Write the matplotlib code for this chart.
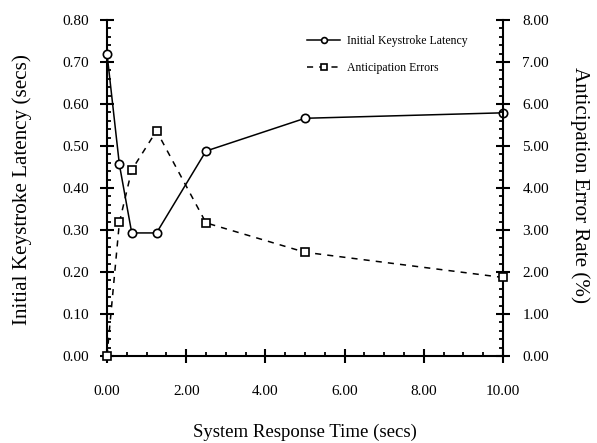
import matplotlib
matplotlib.use("Agg")
import matplotlib.pyplot as plt
from matplotlib.ticker import MultipleLocator, FormatStrFormatter

plt.rcParams['font.family'] = ['Liberation Serif', 'DejaVu Serif']

# Data
response_time = [0.0, 0.3125, 0.625, 1.25, 2.5, 5.0, 10.0]
latency = [0.72, 0.456, 0.293, 0.293, 0.488, 0.566, 0.579]
errors = [0.0, 3.18, 4.43, 5.36, 3.17, 2.47, 1.87]

series_names = ["Initial Keystroke Latency", "Anticipation Errors"]
x_label = "System Response Time (secs)"
y_label = "Initial Keystroke Latency (secs)"
y2_label = "Anticipation Error Rate (%)"

fig = plt.figure(figsize=(5.97, 4.43), dpi=100)
ax = fig.add_axes([107/597, 1-356/443, 396/597, 336/443])
ax2 = ax.twinx()

l1, = ax.plot(response_time, latency, color='black', lw=1.1, marker='o',
              ms=6, mfc='white', mec='black', mew=1.2, clip_on=False, zorder=3)
l2, = ax2.plot(response_time, errors, color='black', lw=1.1, ls=(0, (4, 4)),
               marker='s', ms=5.5, mfc='white', mec='black', mew=1.2,
               clip_on=False, zorder=3)

ax.set_xlim(0, 10)
ax.set_ylim(0, 0.8)
ax2.set_ylim(0, 8)

for a in (ax, ax2):
    a.spines['top'].set_visible(False)
    for s in a.spines.values():
        s.set_linewidth(1.5)

ax2.spines['left'].set_visible(False)
ax2.spines['bottom'].set_visible(False)
ax.spines['right'].set_visible(False)

ax.xaxis.set_major_locator(MultipleLocator(2))
ax.xaxis.set_minor_locator(MultipleLocator(0.5))
ax.yaxis.set_major_locator(MultipleLocator(0.1))
ax.yaxis.set_minor_locator(MultipleLocator(0.02))
ax2.yaxis.set_major_locator(MultipleLocator(1))
ax2.yaxis.set_minor_locator(MultipleLocator(0.2))
ax.xaxis.set_major_formatter(FormatStrFormatter('%.2f'))
ax.yaxis.set_major_formatter(FormatStrFormatter('%.2f'))
ax2.yaxis.set_major_formatter(FormatStrFormatter('%.2f'))

ax.tick_params(axis='x', which='major', direction='inout', length=10, width=1.5,
               pad=16, labelsize=11)
ax.tick_params(axis='x', which='minor', direction='in', length=3, width=1.3)
ax.tick_params(axis='y', which='major', direction='inout', length=10, width=1.5,
               pad=8, labelsize=11)
ax.tick_params(axis='y', which='minor', direction='in', length=3, width=1.3)
ax2.tick_params(axis='y', which='major', direction='inout', length=10, width=1.5,
                pad=9, labelsize=11)
ax2.tick_params(axis='y', which='minor', direction='in', length=3, width=1.3)

ax.set_xlabel(x_label, fontsize=13.5)
ax.xaxis.set_label_coords(0.5, -0.202)
ax.set_ylabel(y_label, fontsize=15.2)
ax.yaxis.set_label_coords(-0.189, 0.494)
ax2.set_ylabel(y2_label, fontsize=15.2, rotation=270, va='bottom')
ax2.yaxis.set_label_coords(1.17, 0.51)

leg = ax2.legend([l1, l2], series_names, loc='upper left',
                 bbox_to_anchor=(0.505, 0.954), frameon=False, fontsize=8.5,
                 handlelength=2.8, handletextpad=0.6, labelspacing=1.25,
                 borderpad=0, borderaxespad=0, markerscale=0.7)

fig.savefig("out.png", dpi=100)
